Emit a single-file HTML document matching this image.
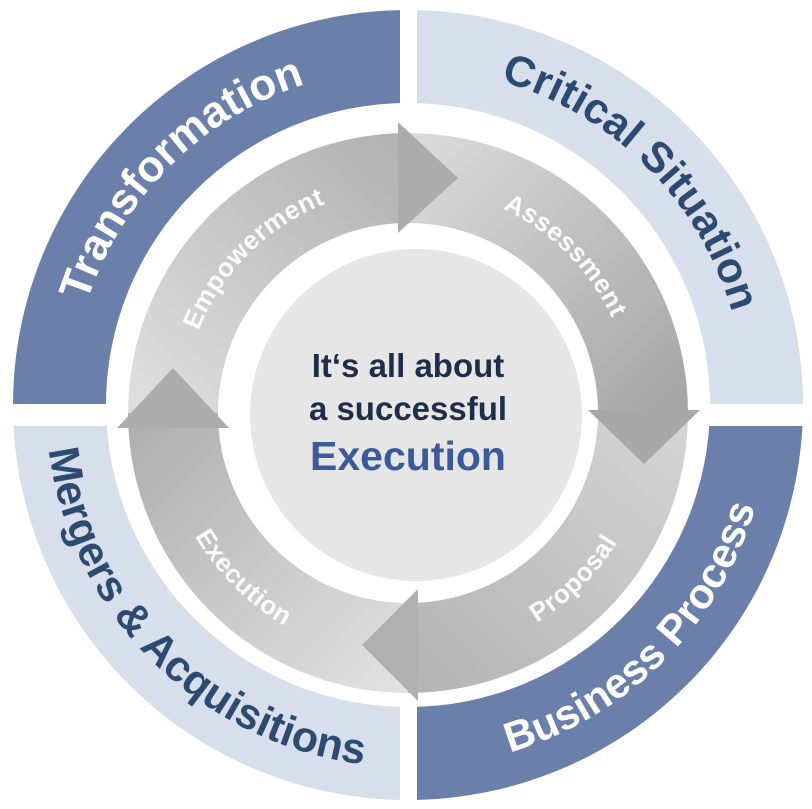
<!DOCTYPE html>
<html><head><meta charset="utf-8"><style>html,body{margin:0;padding:0;background:#fff}svg{display:block}</style></head>
<body>
<svg width="812" height="809" viewBox="0 0 812 809" xmlns="http://www.w3.org/2000/svg" font-family="Liberation Sans, sans-serif" font-weight="bold">
<defs>
<linearGradient id="gE" gradientUnits="userSpaceOnUse" x1="160" y1="420" x2="400" y2="150"><stop offset="0" stop-color="#dedede"/><stop offset="1" stop-color="#b2b2b2"/></linearGradient>
<linearGradient id="gA" gradientUnits="userSpaceOnUse" x1="420" y1="140" x2="680" y2="400"><stop offset="0" stop-color="#dadada"/><stop offset="1" stop-color="#a6a6a6"/></linearGradient>
<linearGradient id="gP" gradientUnits="userSpaceOnUse" x1="680" y1="420" x2="420" y2="690"><stop offset="0" stop-color="#d4d4d4"/><stop offset="1" stop-color="#b4b4b4"/></linearGradient>
<linearGradient id="gX" gradientUnits="userSpaceOnUse" x1="400" y1="690" x2="140" y2="430"><stop offset="0" stop-color="#e2e2e2"/><stop offset="1" stop-color="#b0b0b0"/></linearGradient>
<path id="tT" d="M71,405 A337,337 0 0 1 408,68"/>
<path id="tC" d="M408,68 A337,337 0 0 1 745,405"/>
<path id="tB" d="M408,767 A362,362 0 0 0 770,405"/>
<path id="tM" d="M46,405 A362,362 0 0 0 408,767"/>
<path id="iE" d="M183,413 A225,225 0 0 1 408,188"/>
<path id="iA" d="M408,188 A225,225 0 0 1 633,413"/>
<path id="iP" d="M408,659 A246,246 0 0 0 654,413"/>
<path id="iX" d="M162,413 A246,246 0 0 0 408,659"/>
</defs>
<!-- outer ring quadrants -->
<path d="M13,405 A395,395 0 0 1 408,10 L408,103 A302,302 0 0 0 106,405 Z" fill="#6a80aa"/>
<path d="M408,10 A395,395 0 0 1 803,405 L710,405 A302,302 0 0 0 408,103 Z" fill="#d7deec"/>
<path d="M803,405 A395,395 0 0 1 408,800 L408,707 A302,302 0 0 0 710,405 Z" fill="#6a80aa"/>
<path d="M408,800 A395,395 0 0 1 13,405 L106,405 A302,302 0 0 0 408,707 Z" fill="#d7deec"/>
<rect x="400" y="0" width="17" height="809" fill="#fff"/>
<rect x="0" y="404" width="812" height="22" fill="#fff"/>
<text font-size="44" fill="#fff"><textPath href="#tT" startOffset="50%" text-anchor="middle">Transformation</textPath></text>
<text font-size="43" fill="#2d4a70"><textPath href="#tC" startOffset="50%" text-anchor="middle">Critical Situation</textPath></text>
<text font-size="42" fill="#fff"><textPath href="#tB" startOffset="50%" text-anchor="middle">Business Process</textPath></text>
<text font-size="43" fill="#2d4a70"><textPath href="#tM" startOffset="50%" text-anchor="middle">Mergers &amp; Acquisitions</textPath></text>
<!-- arrow bodies -->
<path d="M128,413 A280,280 0 0 1 408,133 L408,223 A190,190 0 0 0 218,413 Z" fill="url(#gE)"/>
<path d="M408,133 A280,280 0 0 1 688,413 L598,413 A190,190 0 0 0 408,223 Z" fill="url(#gA)"/>
<path d="M688,413 A280,280 0 0 1 408,693 L408,603 A190,190 0 0 0 598,413 Z" fill="url(#gP)"/>
<path d="M408,693 A280,280 0 0 1 128,413 L218,413 A190,190 0 0 0 408,603 Z" fill="url(#gX)"/>
<!-- heads -->
<polygon points="398,122 398,233 458,178" fill="#acacac"/>
<polygon points="588,410 700,410 644,464" fill="#a8a8a8"/>
<polygon points="418,589 418,701 362,645" fill="#b0b0b0"/>
<polygon points="117,428 229,428 173,368" fill="#acacac"/>
<!-- inner labels -->
<g font-size="26" fill="#fff" fill-opacity="0.92" letter-spacing="0.5">
<text><textPath href="#iE" startOffset="50%" text-anchor="middle">Empowerment</textPath></text>
<text><textPath href="#iA" startOffset="50%" text-anchor="middle">Assessment</textPath></text>
<text><textPath href="#iP" startOffset="50%" text-anchor="middle">Proposal</textPath></text>
<text><textPath href="#iX" startOffset="50%" text-anchor="middle">Execution</textPath></text>
</g>
<!-- center -->
<circle cx="416" cy="415" r="166" fill="#e6e6e6"/>
<text x="408" y="377" font-size="33" fill="#1f2e48" text-anchor="middle">It‘s all about</text>
<text x="408" y="420" font-size="33" fill="#1f2e48" text-anchor="middle">a successful</text>
<text x="408" y="470" font-size="41" fill="#3a5a9c" text-anchor="middle">Execution</text>
</svg>
</body></html>
